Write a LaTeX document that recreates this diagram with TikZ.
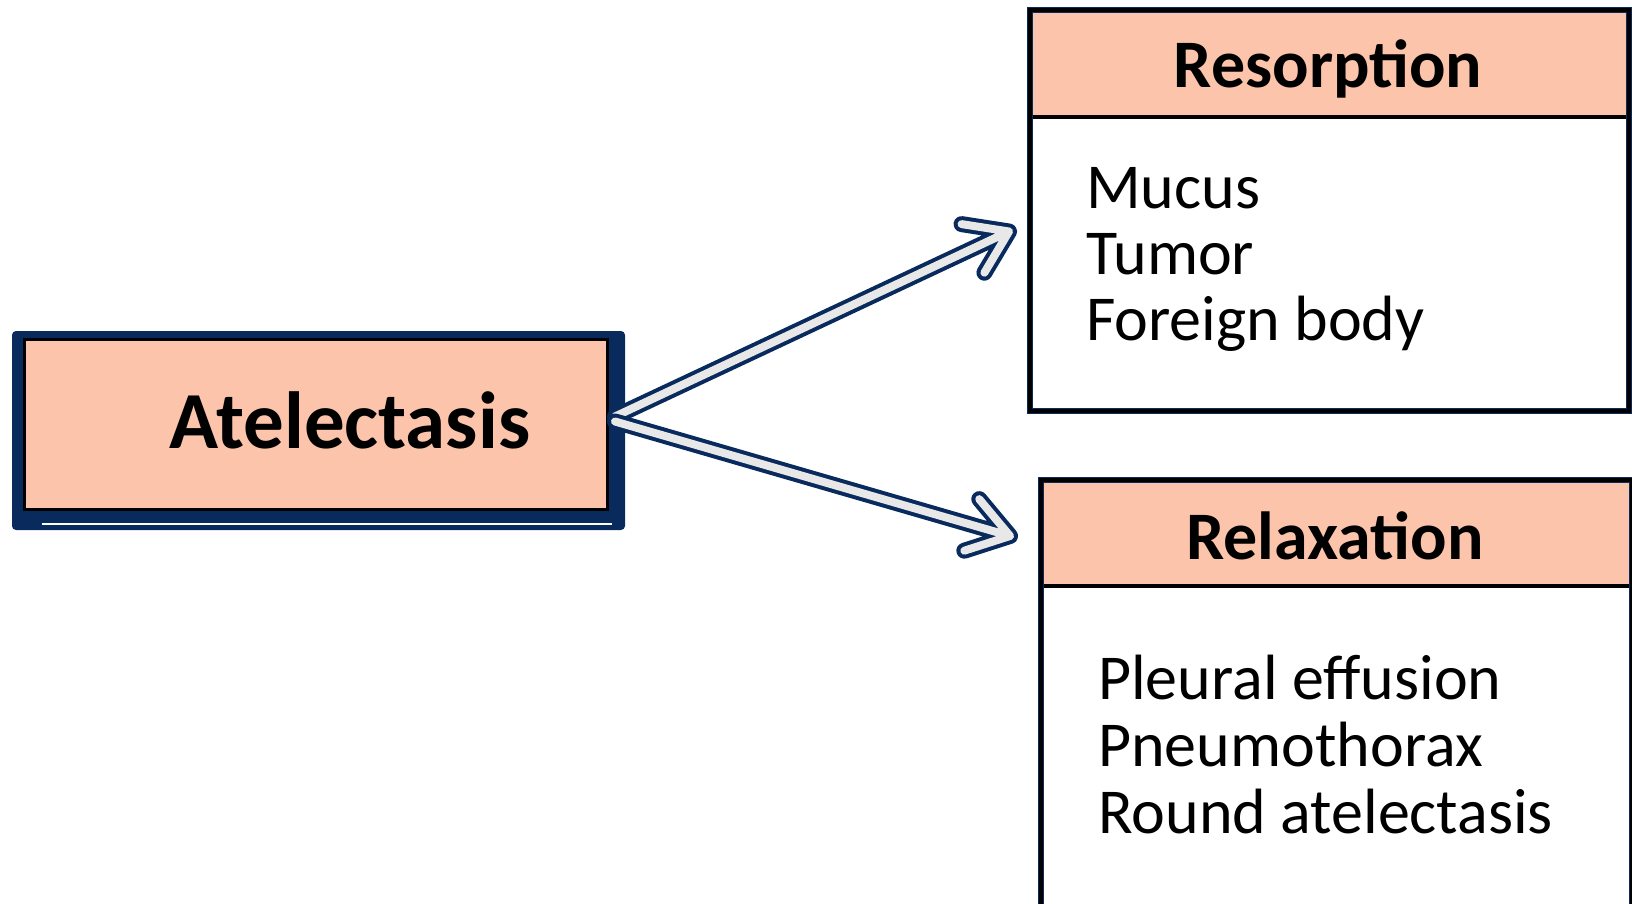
\documentclass[tikz,border=0pt]{standalone}
\usepackage{fontspec}
\setmainfont{Carlito}
\usetikzlibrary{calc}
\definecolor{peach}{RGB}{252,196,170}
\definecolor{navy}{RGB}{8,42,92}
\definecolor{chalk}{RGB}{232,232,232}
\begin{document}
\begin{tikzpicture}[x=1pt,y=-1pt,
  arrowline/.style={line width=8pt, draw=chalk, line cap=round, line join=round,
    preaction={draw=navy, line width=16pt, line cap=round, line join=round}},
  panel/.style={draw=black, fill=white, line width=3pt, inner sep=0pt, anchor=north west},
  frame/.style={draw=black, line width=3.5pt, preaction={draw=navy, line width=6.5pt}},
  titletxt/.style={font=\bfseries\fontsize{68}{80}\selectfont, anchor=base},
  itemtxt/.style={font=\fontsize{64}{66}\selectfont, anchor=base west, inner sep=0pt},
  headline/.style={draw=black, line width=4pt}
]
\useasboundingbox (0,0) rectangle (1632,904);

% Atelectasis box
\fill[navy, rounded corners=4pt] (12,331) rectangle (625,530);
\draw[white, line width=1.5pt] (42,524) -- (612,524);
\node[draw=black, line width=3pt, fill=peach, minimum width=583pt, minimum height=170pt,
      inner sep=0pt, anchor=north west] (atel) at (23,338) {};
\node[font=\bfseries\fontsize{81}{90}\selectfont, anchor=base] (ateltxt) at (350,448) {Atelectasis};

% Resorption box
\node[panel, minimum width=596pt, minimum height=398pt] (res) at (1030,10) {};
\fill[peach] (res.north west) rectangle ($(res.north east)+(0,107)$);
\draw[headline] ($(res.north west)+(0,107)$) -- ($(res.north east)+(0,107)$);
\draw[frame] (res.north west) rectangle (res.south east);
\node[titletxt] (restitle) at (1328,88) {Resorption};
\node[itemtxt] (m1) at (1086,208) {Mucus};
\node[itemtxt] (m2) at (1086,274) {Tumor};
\node[itemtxt] (m3) at (1086,340) {Foreign body};

% Relaxation box
\node[panel, minimum width=588pt, minimum height=424pt] (rel) at (1041,480) {};
\fill[peach] (rel.north west) rectangle ($(rel.north east)+(0,106)$);
\draw[headline] ($(rel.north west)+(0,106)$) -- ($(rel.north east)+(0,106)$);
\draw[frame] (rel.north west) rectangle (rel.south east);
\node[titletxt] (reltitle) at (1335,559) {Relaxation};
\node[itemtxt] (r1) at (1098,699) {Pleural effusion};
\node[itemtxt] (r2) at (1098,766) {Pneumothorax};
\node[itemtxt] (r3) at (1098,833) {Round atelectasis};

% Arrows
\coordinate (src1) at ($(atel.east)+(6,-8)$);
\coordinate (src2) at ($(atel.east)+(6,-3)$);
\coordinate (t1) at ($(res.west)+(-21,21)$);
\coordinate (t2) at ($(rel.north west)+(-31,56)$);
\draw[arrowline] (src1) -- (t1)
  ($(t1)!48pt!34:(src1)$) -- (t1) -- ($(t1)!48pt!-34:(src1)$);
\draw[arrowline] (src2) -- (t2)
  ($(t2)!48pt!34:(src2)$) -- (t2) -- ($(t2)!48pt!-34:(src2)$);
\end{tikzpicture}
\end{document}
